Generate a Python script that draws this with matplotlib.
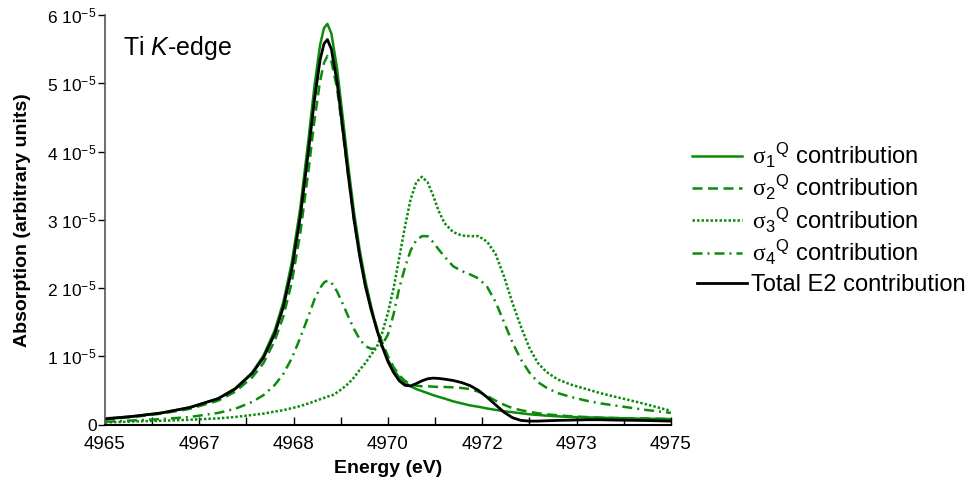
import matplotlib
matplotlib.use("Agg")
import matplotlib.pyplot as plt
import numpy as np
from matplotlib.ticker import FixedLocator, FormatStrFormatter, FuncFormatter

plt.rcParams['font.family'] = ['Liberation Sans', 'DejaVu Sans']
plt.rcParams['mathtext.fontset'] = 'custom'
plt.rcParams['mathtext.rm'] = 'Liberation Sans'
plt.rcParams['mathtext.it'] = 'Liberation Sans:italic'
plt.rcParams['mathtext.bf'] = 'Liberation Sans:bold'
plt.rcParams['mathtext.sf'] = 'Liberation Serif'

# Energy grid (eV) and curves in units of 1e-5
energy = [4965.0, 4965.5, 4966.0, 4966.5, 4967.0, 4967.3, 4967.6, 4967.8, 4968.0, 4968.15,
          4968.3, 4968.45, 4968.6, 4968.7, 4968.8, 4968.87, 4968.93, 4969.0, 4969.1, 4969.2,
          4969.3, 4969.4, 4969.5, 4969.6, 4969.7, 4969.8, 4969.9, 4970.0, 4970.1, 4970.2,
          4970.3, 4970.4, 4970.5, 4970.6, 4970.7, 4970.8, 4970.9, 4971.0, 4971.15, 4971.3,
          4971.45, 4971.6, 4971.75, 4971.9, 4972.05, 4972.2, 4972.35, 4972.5, 4972.65, 4972.8,
          4973.0, 4973.25, 4973.5, 4973.75, 4974.0, 4974.5, 4975.0]

sigma1 = [0.09, 0.12, 0.17, 0.25, 0.38, 0.53, 0.76, 1.01, 1.38, 1.79,
          2.37, 3.17, 4.21, 4.95, 5.56, 5.81, 5.87, 5.73, 5.22, 4.51,
          3.78, 3.11, 2.56, 2.11, 1.74, 1.40, 1.15, 0.95, 0.80, 0.69,
          0.61, 0.56, 0.52, 0.49, 0.46, 0.43, 0.405, 0.38, 0.34, 0.31,
          0.28, 0.26, 0.235, 0.215, 0.195, 0.18, 0.165, 0.15, 0.14, 0.13,
          0.12, 0.11, 0.105, 0.10, 0.095, 0.085, 0.08]

sigma2 = [0.08, 0.11, 0.16, 0.23, 0.35, 0.48, 0.69, 0.90, 1.23, 1.58,
          2.08, 2.80, 3.75, 4.45, 5.03, 5.30, 5.40, 5.32, 4.93, 4.30,
          3.63, 3.00, 2.48, 2.05, 1.71, 1.43, 1.20, 1.00, 0.84, 0.72,
          0.64, 0.59, 0.57, 0.56, 0.56, 0.555, 0.55, 0.55, 0.545, 0.535,
          0.52, 0.48, 0.42, 0.35, 0.29, 0.24, 0.21, 0.185, 0.165, 0.15,
          0.135, 0.12, 0.11, 0.10, 0.095, 0.09, 0.08]

sigma3 = [0.03, 0.045, 0.055, 0.07, 0.09, 0.11, 0.14, 0.16, 0.19, 0.21,
          0.24, 0.27, 0.31, 0.34, 0.37, 0.39, 0.41, 0.42, 0.47, 0.53,
          0.60, 0.69, 0.80, 0.90, 1.02, 1.13, 1.35, 1.64, 2.00, 2.45,
          2.90, 3.30, 3.55, 3.63, 3.55, 3.35, 3.12, 2.95, 2.82, 2.77,
          2.76, 2.76, 2.68, 2.50, 2.17, 1.78, 1.43, 1.12, 0.90, 0.77,
          0.66, 0.58, 0.52, 0.46, 0.41, 0.31, 0.20]

sigma4 = [0.04, 0.06, 0.08, 0.11, 0.17, 0.23, 0.33, 0.43, 0.58, 0.74,
          0.97, 1.27, 1.60, 1.83, 2.00, 2.08, 2.11, 2.08, 1.95, 1.77,
          1.58, 1.40, 1.25, 1.15, 1.11, 1.11, 1.17, 1.32, 1.62, 2.00,
          2.30, 2.55, 2.70, 2.76, 2.76, 2.67, 2.56, 2.46, 2.32, 2.25,
          2.20, 2.14, 2.02, 1.80, 1.50, 1.20, 0.95, 0.76, 0.62, 0.54,
          0.46, 0.40, 0.35, 0.31, 0.28, 0.22, 0.17]

total = [0.08, 0.12, 0.17, 0.25, 0.38, 0.52, 0.75, 0.98, 1.33, 1.72,
         2.27, 3.04, 4.04, 4.75, 5.34, 5.58, 5.64, 5.50, 5.02, 4.34,
         3.64, 3.00, 2.47, 2.03, 1.69, 1.40, 1.14, 0.92, 0.76, 0.64,
         0.575, 0.565, 0.60, 0.64, 0.67, 0.68, 0.675, 0.665, 0.645, 0.615,
         0.57, 0.50, 0.40, 0.29, 0.18, 0.10, 0.06, 0.05, 0.05, 0.055,
         0.06, 0.065, 0.07, 0.07, 0.065, 0.06, 0.05]

labels = [r" $\mathsf{\sigma}_{1}{}^{\mathrm{Q}}$ contribution",
          r" $\mathsf{\sigma}_{2}{}^{\mathrm{Q}}$ contribution",
          r" $\mathsf{\sigma}_{3}{}^{\mathrm{Q}}$ contribution",
          r" $\mathsf{\sigma}_{4}{}^{\mathrm{Q}}$ contribution",
          "Total E2 contribution"]

green = '#0c8c0c'
scale = 1e-5
E = np.array(energy)

fig = plt.figure(figsize=(9.72, 4.86), dpi=100)
ax = fig.add_axes([0.108, 0.1265, 0.5823, 0.8426])

h1, = ax.plot(E, np.array(sigma1) * scale, color=green, lw=1.8)
h2, = ax.plot(E, np.array(sigma2) * scale, color=green, lw=1.8, dashes=(4, 2.2))
h3, = ax.plot(E, np.array(sigma3) * scale, color=green, lw=1.8, dashes=(1, 0.8))
h4, = ax.plot(E, np.array(sigma4) * scale, color=green, lw=1.8, dashes=(4, 2, 0.8, 2))
h5, = ax.plot(E, np.array(total) * scale, color='black', lw=2.0)

ax.set_xlim(4965, 4975)
ax.set_ylim(0, 6e-5)

ax.xaxis.set_major_locator(FixedLocator(np.linspace(4965, 4975, 7)))
ax.xaxis.set_minor_locator(FixedLocator(np.linspace(4965, 4975, 13)))
ax.xaxis.set_major_formatter(FormatStrFormatter('%.0f'))
ax.yaxis.set_major_locator(FixedLocator(np.arange(0, 7) * 1e-5))
ax.yaxis.set_major_formatter(FuncFormatter(
    lambda v, p: '0' if abs(v) < 1e-9 else '%d 10$^{-5}$' % round(v * 1e5)))

ax.tick_params(axis='x', which='both', direction='in', length=6, width=1, pad=8, labelsize=13.5)
ax.tick_params(axis='y', which='major', direction='out', length=5, width=1, pad=1, labelsize=12.5)
ax.tick_params(axis='y', which='minor', length=0)

for s in ['top', 'right']:
    ax.spines[s].set_visible(False)
ax.spines['left'].set_color('#555555')
ax.spines['left'].set_linewidth(1.2)
ax.spines['bottom'].set_linewidth(1.5)

ax.set_xlabel('Energy (eV)', fontsize=14, fontweight='bold', labelpad=5)
ax.set_ylabel('Absorption (arbitrary units)', fontsize=14, fontweight='bold', labelpad=12)

ax.text(0.032, 0.919, 'Ti $K$-edge', transform=ax.transAxes, fontsize=18,
        ha='left', va='center')

leg_opts = dict(frameon=False, fontsize=17, handlelength=2.1, handletextpad=0.2,
                borderpad=0, borderaxespad=0)
fig.legend([h1, h2, h3, h4], labels[:4], loc='center left',
           bbox_to_anchor=(692 / 972, 1 - 204 / 486), labelspacing=0.13, **leg_opts)
fig.legend([h5], labels[4:], loc='center left',
           bbox_to_anchor=(697 / 972, 1 - 285 / 486), **leg_opts)

fig.savefig('out.png', dpi=100)
